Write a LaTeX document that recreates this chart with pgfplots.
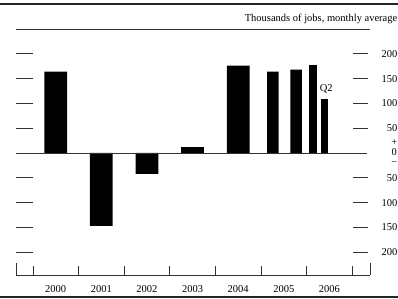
\documentclass[border=0pt]{standalone}
\usepackage{fontspec}
\setmainfont{Liberation Serif}
\usepackage{pgfplots}
\pgfplotsset{compat=1.18}
\begin{document}
\fontsize{10.5}{12}\selectfont
\begin{tikzpicture}
\useasboundingbox (0,0) rectangle (398pt,299pt);
\draw[line width=1.5pt, black!85] (0,295pt) -- (398pt,295pt);
\draw[line width=1.5pt, black!85] (0,2pt) -- (398pt,2pt);
\node[anchor=east, inner sep=0pt] at (397.5pt,280pt) {Thousands of jobs, monthly average};
\begin{axis}[
  at={(16pt,24pt)}, anchor=south west,
  width=354pt, height=246pt, scale only axis,
  xmin=-0.37, xmax=7.39, ymin=-246, ymax=250,
  separate axis lines,
  y axis line style={draw=none},
  x axis line style={line width=0.7pt, black!80},
  xtick={0.5,1.5,2.5,3.5,4.5,5.5,6.5},
  xticklabels={2000,2001,2002,2003,2004,2005,2006},
  minor xtick={0,1,2,3,4,5,6,7},
  xtick pos=bottom, xtick align=inside,
  major tick length=0pt, minor tick length=9pt,
  minor x tick style={line width=0.7pt, black!80},
  ytick={-200,-150,-100,-50,0,50,100,150,200},
  yticklabels={200,150,100,50,{\begin{tabular}{@{}c@{}}+\\[-2pt]0\\[-2pt]−\end{tabular}},50,100,150,200},
  yticklabel pos=right,
  ytick style={draw=none},
  yticklabel style={anchor=east, xshift=31pt},
  /pgf/number format/assume math mode=true,
  tick label style={font=\fontsize{10.5}{12}\selectfont},
  xticklabel style={yshift=-7pt},
  clip=false,
]
\addplot[ybar, bar width=0.5, bar shift=0pt, fill=black, draw=none]
  coordinates {(0.5,164) (1.5,-147) (2.5,-42) (3.5,12) (4.5,176)};
\addplot[ybar, bar width=0.25, bar shift=0pt, fill=black, draw=none]
  coordinates {(5.26,164) (5.77,168)};
\addplot[ybar, bar width=0.17, bar shift=0pt, fill=black, draw=none]
  coordinates {(6.14,178)};
\addplot[ybar, bar width=0.155, bar shift=0pt, fill=black, draw=none]
  coordinates {(6.40,109)};
\draw[line width=0.7pt, black!80] (axis cs:-0.37,0) -- (axis cs:7.33,0);
\pgfplotsinvokeforeach{-200,-150,-100,-50,50,100,150,200}{
  \draw[line width=0.7pt, black!80] (axis cs:-0.37,#1) -- ([xshift=17pt]axis cs:-0.37,#1);
  \draw[line width=0.7pt, black!80] ([xshift=-2pt]axis cs:7.39,#1) -- ([xshift=-17pt]axis cs:7.39,#1);
}
\draw[line width=0.7pt, black!80] (rel axis cs:0,0) -- ([yshift=12pt]rel axis cs:0,0);
\draw[line width=0.7pt, black!80] (rel axis cs:1,0) -- ([yshift=12pt]rel axis cs:1,0);
\node[inner sep=0pt] at (axis cs:6.43,129) {Q2};
\end{axis}
\end{tikzpicture}
\end{document}
